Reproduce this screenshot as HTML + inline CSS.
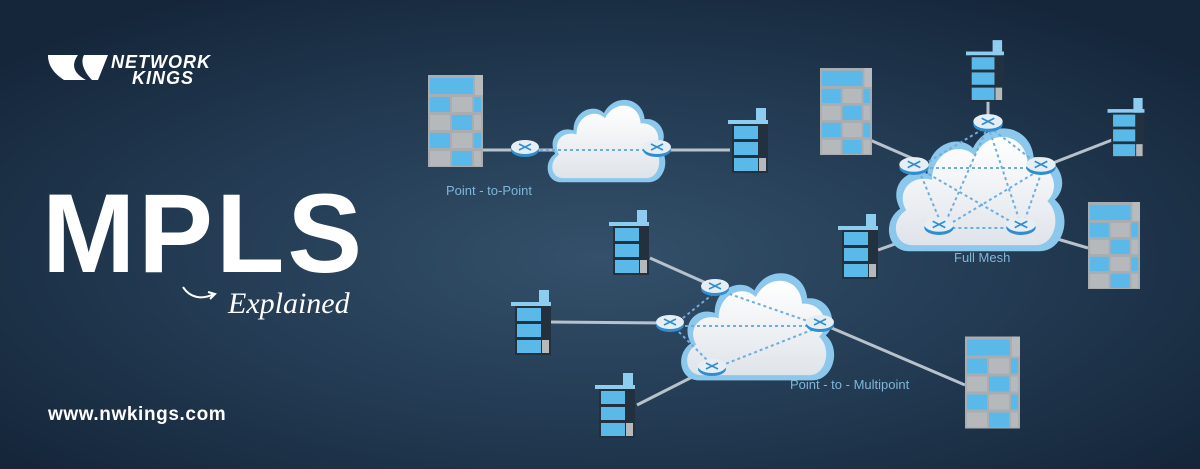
<!DOCTYPE html>
<html><head><meta charset="utf-8"><style>
html,body{margin:0;padding:0;width:1200px;height:469px;overflow:hidden;background:#1b2f44}
svg{display:block}
</style></head><body>
<svg width="1200" height="469" viewBox="0 0 1200 469" xmlns="http://www.w3.org/2000/svg">
<defs>
<radialGradient id="bg" cx="0.5" cy="0.55" r="0.65">
<stop offset="0" stop-color="#34506a"/><stop offset="0.55" stop-color="#223a52"/><stop offset="1" stop-color="#15263a"/>
</radialGradient>
<linearGradient id="cl" x1="0" y1="0" x2="0" y2="1"><stop offset="0" stop-color="#ffffff"/><stop offset="1" stop-color="#dfe4ea"/></linearGradient>
<symbol id="cloud" viewBox="0 0 120 90">
<path d="M16 88 C1 88 -2 68 10 60 C2 46 14 32 28 37 C28 18 48 10 58 20 C68 0 96 4 98 26 C114 24 123 44 112 54 C124 64 118 88 102 88 Z" fill="#8cc8ec"/>
<path d="M18 84 C6 84 3 68 14 61 C7 49 17 37 31 41 C31 23 49 15 59 25 C69 6 93 10 94 30 C109 29 117 45 107 55 C117 64 112 84 100 84 Z" fill="url(#cl)"/>
</symbol>
<symbol id="rt" viewBox="0 0 30 20">
<ellipse cx="15" cy="12" rx="14" ry="7" fill="#2e8fd0"/>
<ellipse cx="15" cy="9" rx="14" ry="7" fill="#e6eef4"/>
<path d="M9 6 L21 12 M21 6 L9 12" stroke="#2e8fd0" stroke-width="1.6"/>
</symbol>
<symbol id="big" viewBox="0 0 55 92">
<rect x="0" y="0" width="55" height="92" fill="#a9adb1"/>
<rect x="47" y="0" width="8" height="20" fill="#b7bbbe"/>
<rect x="2" y="3" width="43" height="16" fill="#5ab9e8"/>
<rect x="2" y="22" width="20" height="15" fill="#5ab9e8"/><rect x="24" y="22" width="20" height="15" fill="#b5b9bc"/><rect x="46" y="22" width="7" height="15" fill="#5ab9e8"/>
<rect x="2" y="40" width="20" height="15" fill="#b5b9bc"/><rect x="24" y="40" width="20" height="15" fill="#5ab9e8"/><rect x="46" y="40" width="7" height="15" fill="#b5b9bc"/>
<rect x="2" y="58" width="20" height="15" fill="#5ab9e8"/><rect x="24" y="58" width="20" height="15" fill="#b5b9bc"/><rect x="46" y="58" width="7" height="15" fill="#5ab9e8"/>
<rect x="2" y="76" width="20" height="15" fill="#b5b9bc"/><rect x="24" y="76" width="20" height="15" fill="#5ab9e8"/><rect x="46" y="76" width="7" height="15" fill="#b5b9bc"/>
</symbol>
<symbol id="sm" viewBox="0 0 40 65">
<rect x="28" y="0" width="10" height="20" fill="#8fcdf0"/>
<rect x="0" y="12" width="40" height="4" fill="#8fcdf0"/>
<rect x="4" y="16" width="36" height="49" fill="#23303d"/>
<rect x="6" y="18" width="24" height="13" fill="#5ab9e8"/>
<rect x="6" y="34" width="24" height="13" fill="#5ab9e8"/>
<rect x="6" y="50" width="24" height="13" fill="#5ab9e8"/>
<rect x="31" y="50" width="7" height="13" fill="#b5b9bc"/>
</symbol>
</defs>
<rect width="1200" height="469" fill="url(#bg)"/>

<!-- logo -->
<path d="M48 55 L78 55 C70 66 75 74 86 80 L64 80 C52 72 48 64 48 55 Z" fill="#fff"/>
<path d="M84 55 L108 55 L98 80 L92 80 C84 72 80 62 84 55 Z" fill="#fff"/>
<text x="111" y="68" font-family="Liberation Sans, sans-serif" font-weight="bold" font-style="italic" font-size="18" fill="#fff" letter-spacing="1">NETWORK</text>
<text x="132" y="84" font-family="Liberation Sans, sans-serif" font-weight="bold" font-style="italic" font-size="18" fill="#fff" letter-spacing="1">KINGS</text>

<text x="42" y="272" font-family="Liberation Sans, sans-serif" font-weight="bold" font-size="112" fill="#fff" letter-spacing="3">MPLS</text>
<path d="M183 287 C190 298 202 300 214 294 M208 292 L215 294 L210 299" stroke="#fff" stroke-width="2" fill="none"/>
<text x="228" y="313" font-family="Liberation Serif, serif" font-style="italic" font-size="30" fill="#fff">Explained</text>
<text x="48" y="420" font-family="Liberation Sans, sans-serif" font-weight="bold" font-size="19" fill="#fff" letter-spacing="0.6">www.nwkings.com</text>

<g stroke="#b8c2cc" stroke-width="3">
<line x1="482" y1="150" x2="730" y2="150"/>
<line x1="870" y1="140" x2="985" y2="190"/>
<line x1="988" y1="100" x2="988" y2="130"/>
<line x1="1112" y1="140" x2="1040" y2="168"/>
<line x1="878" y1="250" x2="940" y2="228"/>
<line x1="1088" y1="248" x2="1020" y2="228"/>
<line x1="650" y1="258" x2="715" y2="287"/>
<line x1="550" y1="322" x2="670" y2="323"/>
<line x1="637" y1="405" x2="712" y2="367"/>
<line x1="820" y1="323" x2="965" y2="385"/>
</g>

<use href="#cloud" x="545" y="90" width="122" height="97"/>
<use href="#cloud" x="885" y="108" width="182" height="156"/>
<use href="#cloud" x="672" y="264" width="170" height="119"/>

<g stroke="#6eaedb" stroke-width="2" stroke-dasharray="3 3" fill="none">
<line x1="540" y1="150" x2="655" y2="150"/>
<path d="M988 126 L918 168 L943 228 L1022 228 L1043 168 Z M988 126 L943 228 M988 126 L1022 228 M918 168 L1043 168 M918 168 L1022 228 M1043 168 L943 228"/>
<path d="M718 290 L822 326 M673 326 L822 326 M715 368 L822 326 M718 290 L673 326 L715 368"/>
</g>

<use href="#rt" x="510" y="138" width="30" height="20"/>
<use href="#rt" x="642" y="138" width="30" height="20"/>
<use href="#rt" x="972" y="112" width="32" height="21"/>
<use href="#rt" x="898" y="155" width="32" height="21"/>
<use href="#rt" x="1025" y="155" width="32" height="21"/>
<use href="#rt" x="923" y="215" width="32" height="21"/>
<use href="#rt" x="1005" y="215" width="32" height="21"/>
<use href="#rt" x="700" y="277" width="30" height="20"/>
<use href="#rt" x="655" y="313" width="30" height="20"/>
<use href="#rt" x="805" y="313" width="30" height="20"/>
<use href="#rt" x="697" y="357" width="30" height="20"/>

<use href="#big" x="428" y="75" width="55" height="92" preserveAspectRatio="none"/>
<use href="#sm" x="727" y="108" width="42" height="65" preserveAspectRatio="none"/>
<use href="#big" x="820" y="65" width="52" height="93" preserveAspectRatio="none"/>
<use href="#sm" x="966" y="40" width="38" height="62" preserveAspectRatio="none"/>
<use href="#sm" x="1107" y="98" width="38" height="60" preserveAspectRatio="none"/>
<use href="#sm" x="838" y="214" width="40" height="65" preserveAspectRatio="none"/>
<use href="#big" x="1088" y="198" width="52" height="95" preserveAspectRatio="none"/>
<use href="#sm" x="608" y="210" width="42" height="65" preserveAspectRatio="none"/>
<use href="#sm" x="510" y="290" width="42" height="65" preserveAspectRatio="none"/>
<use href="#sm" x="594" y="373" width="42" height="65" preserveAspectRatio="none"/>
<use href="#big" x="965" y="325" width="55" height="115" preserveAspectRatio="none"/>

<g font-family="Liberation Sans, sans-serif" font-size="13" fill="#7fb6da">
<text x="446" y="195">Point - to-Point</text>
<text x="954" y="262">Full Mesh</text>
<text x="790" y="389">Point - to - Multipoint</text>
</g>
</svg>
</body></html>
